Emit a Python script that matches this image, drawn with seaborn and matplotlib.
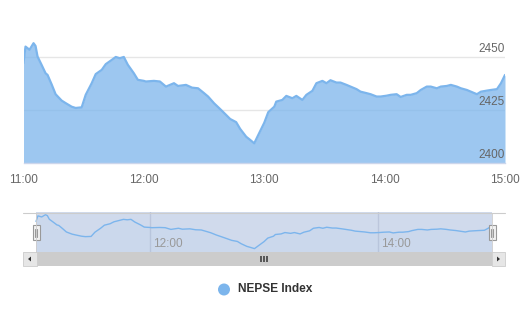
import matplotlib
matplotlib.use("Agg")
import matplotlib.pyplot as plt
import matplotlib.transforms as mtransforms
from matplotlib.patches import Rectangle, Circle, Polygon
import numpy as np
import pandas as pd
import seaborn as sns

# ---------------- data ----------------
times = ["11:00", "11:01", "11:03", "11:05", "11:06", "11:07", "11:09", "11:11", "11:12", "11:14",
         "11:16", "11:19", "11:21", "11:24", "11:26", "11:29", "11:31", "11:34", "11:36", "11:39",
         "11:41", "11:44", "11:46", "11:48", "11:50", "11:52", "11:55", "11:57", "12:00", "12:01",
         "12:05", "12:08", "12:11", "12:15", "12:17", "12:21", "12:24", "12:27", "12:30", "12:32",
         "12:35", "12:38", "12:41", "12:43", "12:46", "12:48", "12:51", "12:53", "12:55", "12:57",
         "13:00", "13:02", "13:05", "13:06", "13:09", "13:11", "13:14", "13:16", "13:19", "13:21",
         "13:24", "13:26", "13:29", "13:31", "13:33", "13:36", "13:38", "13:41", "13:43", "13:46",
         "13:48", "13:51", "13:53", "13:56", "13:58", "14:01", "14:03", "14:06", "14:08", "14:11",
         "14:13", "14:16", "14:18", "14:21", "14:23", "14:26", "14:28", "14:31", "14:33", "14:36",
         "14:38", "14:41", "14:43", "14:46", "14:48", "14:51", "14:53", "14:56", "14:58", "15:00"]
values = [2447.2, 2455.0, 2453.5, 2456.6, 2455.3, 2450.3, 2446.4, 2442.4, 2441.6, 2437.2,
          2432.5, 2429.5, 2428.3, 2426.6, 2426.0, 2426.3, 2432.2, 2437.7, 2442.0, 2444.0,
          2446.7, 2448.7, 2450.1, 2449.5, 2450.1, 2446.4, 2442.4, 2439.3, 2438.8, 2438.5,
          2438.8, 2438.5, 2436.1, 2437.7, 2436.4, 2436.9, 2435.6, 2435.3, 2433.0, 2431.4,
          2428.2, 2425.5, 2422.7, 2420.8, 2419.3, 2416.1, 2412.4, 2410.9, 2409.3, 2413.2,
          2419.0, 2424.0, 2426.6, 2429.0, 2429.8, 2431.7, 2430.6, 2431.7, 2429.8, 2432.2,
          2434.1, 2437.7, 2438.8, 2437.7, 2439.1, 2438.0, 2438.0, 2436.9, 2436.1, 2434.9,
          2433.7, 2433.0, 2432.5, 2431.4, 2431.4, 2431.8, 2432.2, 2432.5, 2431.2, 2432.2,
          2432.2, 2433.0, 2434.5, 2436.1, 2436.1, 2435.3, 2436.1, 2436.4, 2436.9, 2436.1,
          2435.3, 2434.5, 2433.7, 2432.5, 2433.7, 2434.2, 2434.5, 2434.9, 2437.7, 2441.6]
x_tick_labels = ["11:00", "12:00", "13:00", "14:00", "15:00"]
y_tick_values = [2400, 2425, 2450]
nav_tick_labels = ["12:00", "14:00"]
series_name = "NEPSE Index"

df = pd.DataFrame({"time": times, "value": values})
to_min = lambda s: (int(s[:2]) - 11) * 60 + int(s[3:])
df["minute"] = df["time"].map(to_min)
x_ticks = [to_min(t) for t in x_tick_labels]
nav_ticks = [to_min(t) for t in nav_tick_labels]

# ---------------- style ----------------
sns.set_style("white")
plt.rcParams["font.family"] = ["Liberation Sans", "DejaVu Sans"]
BLUE = "#7cb5ec"
FS = 8.5

W, H = 523, 322
fig = plt.figure(figsize=(W / 100, H / 100), dpi=100)


def px_axes(x0, y0, x1, y1):
    return fig.add_axes([x0 / W, 1 - y1 / H, (x1 - x0) / W, (y1 - y0) / H])


# ---------------- main chart ----------------
ax = px_axes(23.5, 36, 505, 163)
for v in y_tick_values[1:]:
    ax.axhline(v, color="#e6e6e6", lw=1, zorder=0)
ax.fill_between(df["minute"], df["value"], y_tick_values[0], color=BLUE, alpha=0.75, lw=0, zorder=1)
sns.lineplot(data=df, x="minute", y="value", ax=ax, color=BLUE, linewidth=1.6, zorder=2)
ax.set_xlim(df["minute"].min(), df["minute"].max())
ax.set_ylim(y_tick_values[0], 2460)
for s in ["top", "left", "right"]:
    ax.spines[s].set_visible(False)
ax.spines["bottom"].set_color("#ccd6eb")
ax.spines["bottom"].set_linewidth(1)
ax.set_xticks(x_ticks)
ax.set_xticklabels(x_tick_labels)
ax.tick_params(axis="x", length=6, width=1, color="#ccd6eb", labelcolor="#666666",
               labelsize=FS, pad=2)
ax.set_yticks([])
ax.set_xlabel("")
ax.set_ylabel("")
lab_tr = mtransforms.blended_transform_factory(ax.transAxes, ax.transData) + \
    mtransforms.ScaledTranslation(0, 2 / 100, fig.dpi_scale_trans)
for v in y_tick_values:
    ax.text(1.0, v, str(v), transform=lab_tr, ha="right", va="bottom",
            fontsize=FS, color="#666666")

# ---------------- navigator ----------------
nav = px_axes(23, 212, 505, 252)
lo, hi = min(values), max(values)
span = hi - lo
px_per_min = (492 - 36) / (df["minute"].max() - df["minute"].min())
pad_min = 13 / px_per_min
nav.set_xlim(df["minute"].min() - pad_min, df["minute"].max() + pad_min)
nav.set_ylim(lo - 0.1 * span, hi + 0.08 * span)
nav.axvspan(df["minute"].min(), df["minute"].max(), color=(102 / 255, 133 / 255, 194 / 255, 0.3),
            lw=0, zorder=0)
for t in nav_ticks:
    nav.axvline(t, color="#bcc6dc", lw=1, zorder=1)
nav.fill_between(df["minute"], df["value"], lo - 0.1 * span, color=BLUE, alpha=0.05, lw=0)
sns.lineplot(data=df, x="minute", y="value", ax=nav, color=BLUE, linewidth=1, zorder=2)
for t, lab in zip(nav_ticks, nav_tick_labels):
    nav.text(t, 0.2, lab, transform=mtransforms.blended_transform_factory(nav.transData, nav.transAxes)
             + mtransforms.ScaledTranslation(3 / 100, 0, fig.dpi_scale_trans),
             ha="left", va="center", fontsize=FS, color="#999999")
nav.set_xticks([])
nav.set_yticks([])
nav.set_xlabel("")
nav.set_ylabel("")
for s in nav.spines.values():
    s.set_visible(False)

# ---------------- overlay: outline, handles, scrollbar, legend ----------------
ov = fig.add_axes([0, 0, 1, 1])
ov.set_xlim(0, W)
ov.set_ylim(H, 0)
ov.axis("off")
ov.patch.set_alpha(0)

ov.plot([23, 505], [212.5, 212.5], color="#cccccc", lw=0.8)
for xe in (36, 492):
    ov.plot([xe, xe], [212.5, 252], color="#cccccc", lw=0.6)

# scrollbar
ov.add_patch(Rectangle((23, 252), 482, 14, fc="#f2f2f2", ec="none"))
ov.add_patch(Rectangle((36, 252), 456, 14, fc="#cccccc", ec="none"))
ov.add_patch(Rectangle((23, 252), 13.5, 14, fc="#e6e6e6", ec="#cccccc", lw=0.6))
ov.add_patch(Rectangle((491.5, 252), 13.5, 14, fc="#e6e6e6", ec="#cccccc", lw=0.6))
ov.add_patch(Polygon([(28.0, 259), (31.0, 256.5), (31.0, 261.5)], closed=True, fc="#333333", ec="none"))
ov.add_patch(Polygon([(500.0, 259), (497.0, 256.5), (497.0, 261.5)], closed=True, fc="#333333", ec="none"))
for xr in (261, 264, 267):
    ov.plot([xr, xr], [256, 262], color="#555555", lw=1.4, solid_capstyle="butt")

# handles
for xc in (36, 492):
    ov.add_patch(Rectangle((xc - 3.5, 225), 7, 15, fc="#f2f2f2", ec="#999999", lw=0.8))
    for dx in (-1, 1):
        ov.plot([xc + dx, xc + dx], [228.5, 236.5], color="#999999", lw=0.8)

# legend
ov.add_patch(Circle((224, 289.5), 6, fc=BLUE, ec="none"))
ov.text(238, 289.5, series_name, ha="left", va="center", fontsize=8.6, fontweight="bold",
        color="#333333")

fig.savefig("out.png", dpi=100)
